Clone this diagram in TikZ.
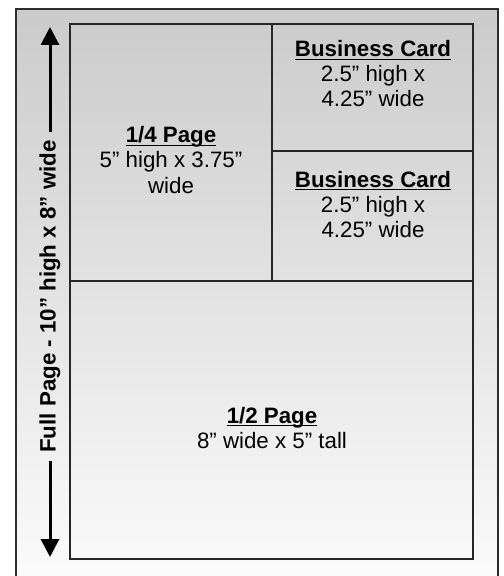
\documentclass[tikz,border=0pt]{standalone}
\usepackage{fontspec}
\setmainfont{Liberation Sans}
\usetikzlibrary{arrows.meta}
\newsavebox\myulbox
\newcommand{\myul}[1]{\sbox\myulbox{#1}\rlap{\rule[-3.2pt]{\wd\myulbox}{1.3pt}}\usebox\myulbox}
\definecolor{topgray}{RGB}{203,203,203}
\definecolor{botgray}{RGB}{251,251,251}
\definecolor{edgegray}{RGB}{45,45,45}
\tikzset{
  lbl/.style={align=center, anchor=base, inner sep=0pt, font=\fontsize{22.3bp}{25bp}\selectfont, text=black},
  frame/.style={draw=edgegray, line width=1.6bp},
  part/.style={draw=black!85, line width=2bp},
  arr/.style={line width=3bp, -{Triangle[width=18bp,length=18bp]}},
}
\begin{document}
\begin{tikzpicture}[x=1bp,y=-1bp]
\useasboundingbox (0,0) rectangle (504,576);
\shade[top color=topgray, bottom color=botgray] (16,9) rectangle (498,582);
\draw[frame] (16,582) -- (16,9) -- (498,9) -- (498,582);
% page parts
\draw[part] (70,24) rectangle (473,559);
\draw[part] (272,24) -- (272,281);
\draw[part] (70,281) -- (473,281);
\draw[part] (272,151) -- (473,151);
% texts (base anchor = baseline of last line)
\node[lbl] (quarter) at (171,193) {\textbf{\myul{1/4 Page}}\\5” high x 3.75”\\wide};
\node[lbl] (card1) at (373,107) {\textbf{\myul{Business Card}}\\2.5” high x\\4.25” wide};
\node[lbl] (card2) at (373,237) {\textbf{\myul{Business Card}}\\2.5” high x\\4.25” wide};
\node[lbl] (half) at (272,448) {\textbf{\myul{1/2 Page}}\\8” wide x 5” tall};
% side label and arrow
\node[font=\fontsize{22.3bp}{25bp}\selectfont\bfseries, rotate=90, inner xsep=8bp, inner ysep=0pt] (side) at (50,296.5) {Full Page - 10” high x 8” wide};
\coordinate (toptip) at (50,27);
\coordinate (bottip) at (50,557);
\draw[arr] (side.east) -- (toptip);
\draw[arr] (side.west) -- (bottip);
\end{tikzpicture}
\end{document}
